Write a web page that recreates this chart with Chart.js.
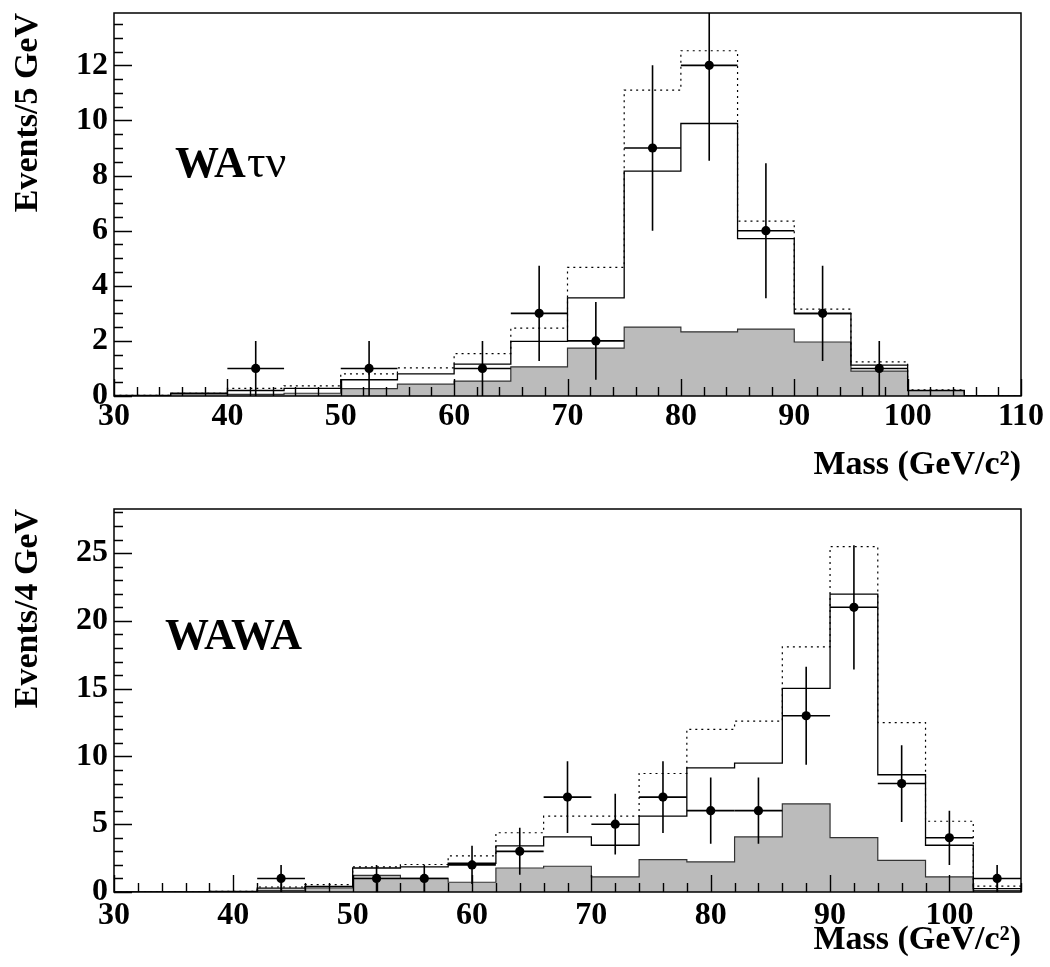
<!DOCTYPE html>
<html><head><meta charset="utf-8">
<script src="https://cdn.jsdelivr.net/npm/chart.js@4/dist/chart.umd.min.js"></script>
<style>
html,body{margin:0;padding:0;background:#fff;overflow:hidden;}
#w1{position:absolute;left:0;top:0;width:1050px;height:496px;}
#w2{position:absolute;left:0;top:496px;width:1050px;height:471px;}
</style></head><body>
<div id="w1"><canvas id="c1"></canvas></div>
<div id="w2"><canvas id="c2"></canvas></div>
<script>
// ---------- Top panel: W A tau nu (5 GeV bins) ----------
const topEdges = [30,35,40,45,50,55,60,65,70,75,80,85,90,95,100,105,110];
const topGray   = [0, 0.08, 0.06, 0.10, 0.27, 0.43, 0.54, 1.06, 1.74, 2.50, 2.33, 2.43, 1.96, 0.90, 0.20, 0];
const topSolid  = [0.02, 0.10, 0.20, 0.28, 0.59, 0.80, 1.16, 1.98, 3.56, 8.16, 9.89, 5.71, 2.99, 1.12, 0.20, 0];
const topDotted = [0.02, 0.10, 0.28, 0.37, 0.80, 1.02, 1.54, 2.46, 4.67, 11.10, 12.53, 6.35, 3.15, 1.24, 0.22, 0];
const topDataX  = [42.5, 52.5, 62.5, 67.5, 72.5, 77.5, 82.5, 87.5, 92.5, 97.5];
const topDataY  = [1, 1, 1, 3, 2, 9, 12, 6, 3, 1];
const topDataErr= [1, 1, 1, 1.73, 1.41, 3, 3.46, 2.45, 1.73, 1];

// ---------- Bottom panel: W A W A (4 GeV bins) ----------
const botEdges = [30,34,38,42,46,50,54,58,62,66,70,74,78,82,86,90,94,98,102,106];
const botGray   = [0, 0, 0.03, 0.12, 0.30, 1.23, 1.00, 0.72, 1.77, 1.90, 1.11, 2.39, 2.22, 4.06, 6.50, 4.01, 2.34, 1.11, 0.10];
const botSolid  = [0, 0, 0.04, 0.28, 0.42, 1.77, 1.85, 2.12, 3.40, 4.06, 3.45, 5.59, 9.16, 9.50, 15.02, 21.97, 8.65, 3.45, 0.25];
const botDotted = [0, 0, 0.05, 0.37, 0.54, 1.85, 2.03, 2.66, 4.37, 5.59, 5.59, 8.74, 12.00, 12.60, 18.08, 25.47, 12.49, 5.22, 0.44];
const botDataX  = [44, 52, 56, 60, 64, 68, 72, 76, 80, 84, 88, 92, 96, 100, 104];
const botDataY  = [1, 1, 1, 2, 3, 7, 5, 7, 6, 6, 13, 21, 8, 4, 1];
const botDataErr= [1, 1, 1, 1.41, 1.73, 2.65, 2.24, 2.65, 2.45, 2.45, 3.61, 4.58, 2.83, 2, 1];

const FONT = "'Liberation Serif', 'Times New Roman', serif";

function stepData(edges, vals) {
  const pts = [{x: edges[0], y: 0}];
  for (let i = 0; i < vals.length; i++) pts.push({x: edges[i], y: vals[i]});
  pts.push({x: edges[vals.length], y: 0});
  return pts;
}
function pointData(xs, ys) { return xs.map((x, i) => ({x: x, y: ys[i]})); }

const rootAxes = {
  id: 'rootAxes',
  afterDatasetsDraw(chart, args, o) {
    const {ctx, chartArea: a, scales: {x, y}} = chart;
    ctx.save();
    // error bars
    ctx.beginPath();
    ctx.rect(a.left, a.top, a.right - a.left, a.bottom - a.top);
    ctx.clip();
    ctx.strokeStyle = '#000';
    ctx.lineWidth = 1.6;
    o.xs.forEach((xv, i) => {
      const yv = o.ys[i], e = o.err[i];
      ctx.beginPath();
      ctx.moveTo(x.getPixelForValue(xv - o.half), y.getPixelForValue(yv));
      ctx.lineTo(x.getPixelForValue(xv + o.half), y.getPixelForValue(yv));
      ctx.moveTo(x.getPixelForValue(xv), y.getPixelForValue(yv - e));
      ctx.lineTo(x.getPixelForValue(xv), y.getPixelForValue(yv + e));
      ctx.stroke();
    });
    ctx.restore();
    ctx.save();
    // tick marks (inward), major & minor
    ctx.strokeStyle = '#000';
    ctx.lineWidth = 1.4;
    ctx.beginPath();
    const nx = Math.round((x.max - x.min) / o.xMinor);
    for (let k = 0; k <= nx; k++) {
      const v = x.min + k * o.xMinor;
      const major = Math.abs(v / o.xMajor - Math.round(v / o.xMajor)) < 1e-6;
      const px = Math.round(x.getPixelForValue(v)) + 0.5;
      ctx.moveTo(px, a.bottom);
      ctx.lineTo(px, a.bottom - (major ? 17 : 9));
    }
    const ny = Math.floor((y.max - y.min) / o.yMinor + 1e-6);
    for (let k = 0; k <= ny; k++) {
      const v = y.min + k * o.yMinor;
      const major = Math.abs(v / o.yMajor - Math.round(v / o.yMajor)) < 1e-6;
      const py = Math.round(y.getPixelForValue(v)) + 0.5;
      ctx.moveTo(a.left, py);
      ctx.lineTo(a.left + (major ? 18 : 9), py);
    }
    ctx.stroke();
    // frame
    ctx.lineWidth = 1.5;
    ctx.strokeRect(a.left, a.top, a.right - a.left, a.bottom - a.top);
    ctx.restore();
  },
  afterDraw(chart, args, o) {
    const ctx = chart.ctx;
    const a = chart.chartArea;
    ctx.save();
    ctx.fillStyle = '#000';
    ctx.textBaseline = 'alphabetic';
    ctx.textAlign = 'left';
    ctx.font = 'bold 44px ' + FONT;
    ctx.fillText(o.labelBold, o.labelX, o.labelY);
    const w = ctx.measureText(o.labelBold).width;
    if (o.labelPlain) {
      ctx.font = '46px ' + FONT;
      ctx.fillText(o.labelPlain, o.labelX + w + 1, o.labelY);
    }
    ctx.restore();
    // y-axis title, right-aligned to the top of the frame (ROOT style)
    ctx.save();
    ctx.fillStyle = '#000';
    ctx.font = 'bold 34px ' + FONT;
    ctx.translate(37, a.top);
    ctx.rotate(-Math.PI / 2);
    ctx.textAlign = 'right';
    ctx.textBaseline = 'alphabetic';
    ctx.fillText(o.yTitle, 0, 0);
    ctx.restore();
  }
};

function makeChart(canvasId, p) {
  return new Chart(document.getElementById(canvasId), {
    type: 'line',
    data: {
      datasets: [
        { label: 'data', type: 'scatter', data: pointData(p.dx, p.dy), showLine: false,
          pointRadius: 4.6, pointHoverRadius: 4.6, backgroundColor: '#000', borderColor: '#000', borderWidth: 0, order: 0 },
        { label: 'dotted', data: stepData(p.edges, p.dotted), stepped: true, borderColor: '#000',
          borderWidth: 1.2, borderDash: [2, 4], pointRadius: 0, fill: false, order: 1 },
        { label: 'solid', data: stepData(p.edges, p.solid), stepped: true, borderColor: '#000',
          borderWidth: 1.3, pointRadius: 0, fill: false, order: 2 },
        { label: 'gray', data: stepData(p.edges, p.gray), stepped: true, borderColor: '#333',
          borderWidth: 1.2, backgroundColor: '#bbbbbb', pointRadius: 0, fill: 'origin', order: 3 }
      ]
    },
    options: {
      responsive: true, maintainAspectRatio: false, animation: false,
      devicePixelRatio: 1,
      layout: { padding: { top: p.padTop, right: 29, left: 0, bottom: 0 } },
      plugins: {
        legend: { display: false }, tooltip: { enabled: false },
        rootAxes: { xs: p.dx, ys: p.dy, err: p.derr, half: p.half,
          xMinor: 2, xMajor: 10, yMinor: p.yMinor, yMajor: p.yMajor, yTitle: p.yTitle,
          labelBold: p.labelBold, labelPlain: p.labelPlain, labelX: p.labelX, labelY: p.labelY }
      },
      scales: {
        x: {
          type: 'linear', min: p.xmin, max: p.xmax,
          grid: { display: false, drawTicks: false },
          border: { display: false },
          ticks: { stepSize: 10, includeBounds: false, autoSkip: false, maxRotation: 0, padding: p.xTickPad,
            color: '#000', font: { family: FONT, weight: 'bold', size: 32 } },
          title: { display: true, text: 'Mass (GeV/c²)', align: 'end', color: '#000',
            padding: { top: 0, bottom: p.xTitlePad }, font: { family: FONT, weight: 'bold', size: 34 } },
          afterFit: (s) => { s.height = p.xHeight; s.paddingLeft = 0; s.paddingRight = 0; }
        },
        y: {
          type: 'linear', min: 0, max: p.ymax,
          grid: { display: false, drawTicks: false },
          border: { display: false },
          ticks: { stepSize: p.yMajor, includeBounds: false, padding: 6, color: '#000',
            font: { family: FONT, weight: 'bold', size: 32 } },
          title: { display: false },
          afterFit: (s) => { s.width = 114; s.paddingTop = 0; s.paddingBottom = 0; }
        }
      }
    },
    plugins: [rootAxes]
  });
}

makeChart('c1', {
  edges: topEdges, gray: topGray, solid: topSolid, dotted: topDotted,
  dx: topDataX, dy: topDataY, derr: topDataErr, half: 2.5,
  xmin: 30, xmax: 110, ymax: 13.9, yMinor: 0.5, yMajor: 2,
  yTitle: 'Events/5 GeV', padTop: 13, xHeight: 100, xTickPad: 2, xTitlePad: 10,
  labelBold: 'WA', labelPlain: 'τν', labelX: 175, labelY: 177
});
makeChart('c2', {
  edges: botEdges, gray: botGray, solid: botSolid, dotted: botDotted,
  dx: botDataX, dy: botDataY, derr: botDataErr, half: 2,
  xmin: 30, xmax: 106, ymax: 28.25, yMinor: 1, yMajor: 5,
  yTitle: 'Events/4 GeV', padTop: 13, xHeight: 75, xTickPad: 5, xTitlePad: 6,
  labelBold: 'WAWA', labelPlain: '', labelX: 165, labelY: 153
});
</script>
</body></html>
